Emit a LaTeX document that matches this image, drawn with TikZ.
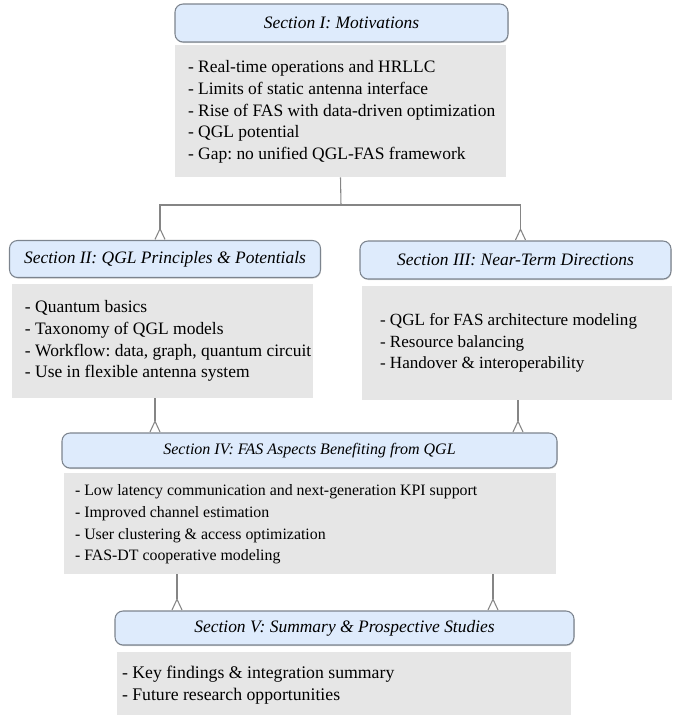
\documentclass[tikz,border=0pt]{standalone}
\usepackage{fontspec}
\setmainfont{Liberation Serif}
\usepackage{tikz}
\usetikzlibrary{arrows.meta,shadows,calc}
\frenchspacing

\definecolor{headblue}{HTML}{DEEBFC}
\definecolor{headedge}{HTML}{7C848E}
\definecolor{bodygray}{HTML}{E6E6E6}
\definecolor{linkgray}{HTML}{858585}

\begin{document}
\begin{tikzpicture}[x=0.75pt,y=-0.75pt,
    font=\rmfamily\fontsize{13.1}{16.3}\selectfont,
    head/.style={draw=headedge, line width=0.8pt, fill=headblue, rounded corners=6pt,
      drop shadow={shadow xshift=0.4pt, shadow yshift=-0.8pt, opacity=0.35},
      font=\rmfamily\fontsize{13.1}{15}\selectfont\itshape, inner sep=0pt},
    body/.style={fill=bodygray, inner sep=0pt},
    items/.style={anchor=west, align=left, inner sep=0pt},
    link/.style={draw=linkgray, line width=0.8pt,
      -{Straight Barb[reversed, length=8pt, width=7.5pt]}},
    trunk/.style={draw=linkgray, line width=0.8pt}]
  \useasboundingbox (0,0) rectangle (683,715);

  % section I
  \node[head, minimum width=249.75pt, minimum height=28.5pt] (h1) at (341.5,23) {Section I: Motivations};
  \node[body, minimum width=248.25pt, minimum height=99pt] (b1) at (340.5,111) {};
  \node[items] (t1) at ($(b1.west)+(13,1)$)
    {- Real-time operations and HRLLC\\
     - Limits of static antenna interface\\
     - Rise of FAS with data-driven optimization\\
     - QGL potential\\
     - Gap: no unified QGL-FAS framework};

  % section II
  \node[head, minimum width=233.25pt, minimum height=27.75pt] (h2) at (165,259) {Section II: QGL Principles \& Potentials};
  \node[body, minimum width=225.75pt, minimum height=85.5pt] (b2) at (162.5,341) {};
  \node[items] (t2) at ($(b2.west)+(13,0)$)
    {- Quantum basics\\
     - Taxonomy of QGL models\\
     - Workflow: data, graph, quantum circuit\\
     - Use in flexible antenna system};

  % section III
  \node[head, minimum width=233.25pt, minimum height=28.5pt] (h3) at (515.5,260) {Section III: Near-Term Directions};
  \node[body, minimum width=232.5pt, minimum height=85.5pt] (b3) at (517,343) {};
  \node[items, font=\fontsize{12.8}{16.3}\selectfont] (t3) at ($(b3.west)+(18,0)$)
    {- QGL for FAS architecture modeling\\
     - Resource balancing\\
     - Handover \& interoperability};

  % section IV
  \node[head, minimum width=371.25pt, minimum height=26.25pt,
    font=\rmfamily\fontsize{12}{14}\selectfont\itshape] (h4) at (309.5,450.5) {Section IV: FAS Aspects Benefiting from QGL};
  \node[body, minimum width=369pt, minimum height=75.75pt] (b4) at (310,523.5) {};
  \node[items, font=\fontsize{11.9}{16.3}\selectfont] (t4) at ($(b4.west)+(11,1)$)
    {- Low latency communication and next-generation KPI support\\
     - Improved channel estimation\\
     - User clustering \& access optimization\\
     - FAS-DT cooperative modeling};

  % section V
  \node[head, minimum width=344.25pt, minimum height=25.5pt] (h5) at (344.5,628) {Section V: Summary \& Prospective Studies};
  \node[body, minimum width=340.5pt, minimum height=47.25pt] (b5) at (344,683.5) {};
  \node[items, font=\fontsize{13.3}{16.3}\selectfont] (t5) at ($(b5.west)+(5,1.5)$)
    {- Key findings \& integration summary\\
     - Future research opportunities};

  % I splits to II and III
  \coordinate (split) at (341,205);
  \draw[trunk] (b1.south) -- (split);
  \draw[link] (split) -| ($(h2.north)+(-5,0)$);
  \draw[link] (split) -| ($(h3.north)+(5,0)$);
  % II and III feed IV
  \coordinate (out2) at ($(b2.south)+(-7.5,0)$);
  \coordinate (out3) at ($(b3.south)+(1,0)$);
  \draw[link] (out2) -- (out2 |- h4.north);
  \draw[link] (out3) -- (out3 |- h4.north);
  % IV feeds V
  \coordinate (out4a) at ($(b4.south)+(-133,0)$);
  \coordinate (out4b) at ($(b4.south)+(183,0)$);
  \draw[link] (out4a) -- (out4a |- h5.north);
  \draw[link] (out4b) -- (out4b |- h5.north);
\end{tikzpicture}
\end{document}
